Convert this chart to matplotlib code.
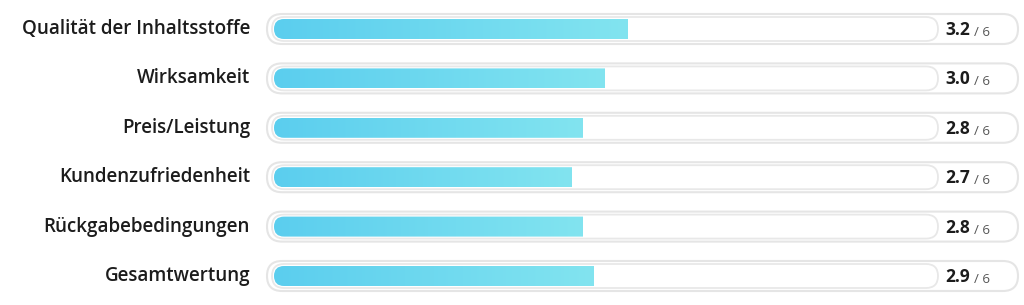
import numpy as np
import matplotlib
matplotlib.use("Agg")
import matplotlib.pyplot as plt
from matplotlib.colors import LinearSegmentedColormap
from matplotlib.patches import FancyBboxPatch

# ratings (out of 6)
categories = ["Qualität der Inhaltsstoffe", "Wirksamkeit", "Preis/Leistung",
              "Kundenzufriedenheit", "Rückgabebedingungen", "Gesamtwertung"]
scores = [3.2, 3.0, 2.8, 2.7, 2.8, 2.9]
max_score = 6

W, H, DPI = 1024, 305, 100
X0_PX, X1_PX = 274, 936          # pixel span of the 0..6 scale
ROW_PX = 49.4                    # row spacing in pixels
TOP_PX = 29                      # centre of first row from top

plt.rcParams["font.family"] = ["Open Sans", "DejaVu Sans"]

fig = plt.figure(figsize=(W / DPI, H / DPI), dpi=DPI)
n = len(categories)
pad_rows = TOP_PX / ROW_PX
ax = fig.add_axes([X0_PX / W, 0, (X1_PX - X0_PX) / W, 1])
ax.set_xlim(0, max_score)
ax.set_ylim(n - 1 + pad_rows, -pad_rows)
ax.axis("off")

sx = (X1_PX - X0_PX) / max_score     # px per x unit
aspect = sx / ROW_PX                 # y units per x unit, for round corners

def px_x(p):
    return p / sx

def px_y(p):
    return p / ROW_PX

def pill(x, y, w, h_px, **kw):
    h = px_y(h_px)
    r = px_x(h_px / 2)
    p = FancyBboxPatch((x, y - h / 2), w, h,
                       boxstyle=f"round,pad=0,rounding_size={r}",
                       mutation_aspect=aspect, clip_on=False, **kw)
    ax.add_patch(p)
    return p

cmap = LinearSegmentedColormap.from_list("bar", ["#5bceee", "#82e4f0"])
grad = np.linspace(0, 1, 256).reshape(1, -1)

for i, (cat, val) in enumerate(zip(categories, scores)):
    # outer pill
    pill(px_x(267 - X0_PX), i, px_x(1018 - 267), 30,
         facecolor="white", edgecolor="#e5e5e5", linewidth=1.5)
    # inner track
    pill(px_x(272 - X0_PX), i, max_score + px_x(4), 24,
         facecolor="white", edgecolor="#e8e8e8", linewidth=1.3)
    # bar shape used as clip
    clip = pill(0, i, max_score, 20, facecolor="none", edgecolor="none")
    hh = px_y(20) / 2
    im = ax.imshow(grad, cmap=cmap, aspect="auto", interpolation="bicubic",
                   extent=[0, val, i + hh, i - hh], zorder=3)
    im.set_clip_path(clip)

    ax.text(px_x(250 - X0_PX), i, cat, ha="right", va="center",
            fontsize=13.5, fontweight="semibold", color="#1c1c1c")
    t = ax.text(px_x(945 - X0_PX), i + px_y(6), f"{val:.1f}", ha="left",
                va="baseline", fontsize=12.5, fontweight="bold", color="#1c1c1c")
    ax.annotate("/ 6", xy=(1, 0), xycoords=t, xytext=(3, 0),
                textcoords="offset points", ha="left", va="bottom",
                fontsize=9.5, color="#555555")

ax.set_xlim(0, max_score)
ax.set_ylim(n - 1 + pad_rows, -pad_rows)

fig.savefig("out.png", dpi=DPI, facecolor="white")
